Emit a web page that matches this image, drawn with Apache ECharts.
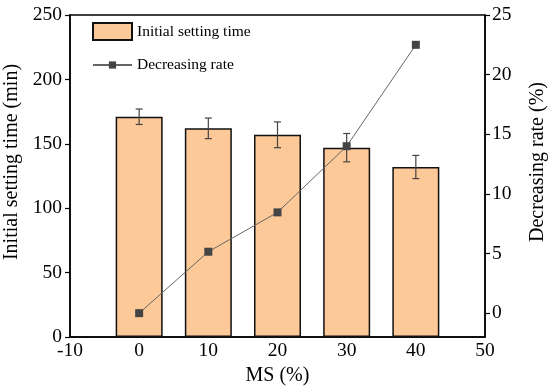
<!DOCTYPE html>
<html><head><meta charset="utf-8">
<script src="https://cdn.jsdelivr.net/npm/echarts@6/dist/echarts.min.js"></script>
<style>html,body{margin:0;padding:0;background:#fff}#c{width:550px;height:386px}</style>
</head><body><div id="c"></div>
<script>
var msValues = [0, 10, 20, 30, 40];
var settingTime = [171, 162, 157, 147, 132];
var settingErr = [6, 8, 10, 11, 9];
var decreasingRate = [0, 5.15, 8.45, 14.0, 22.5];
var xTicks = [-10, 0, 10, 20, 30, 40, 50];
var rightTicks = [0, 5, 10, 15, 20, 25];

var FONT = '"Palatino Linotype","Book Antiqua",Palatino,"Liberation Serif",serif';
var barData = msValues.map(function(x,i){return [x, settingTime[i]];});
var errData = msValues.map(function(x,i){return [x, settingTime[i]-settingErr[i], settingTime[i]+settingErr[i]];});
var lineData = msValues.map(function(x,i){return [x, decreasingRate[i]];});

var chart = echarts.init(document.getElementById('c'));
chart.setOption({
  animation:false,
  textStyle:{fontFamily:FONT},
  grid:{left:70,right:65,top:15,bottom:49,show:true,borderColor:'#000',borderWidth:1.5,backgroundColor:'transparent',
        containLabel:false,outerBoundsMode:'none'},
  legend:[
    {data:['Initial setting time'],icon:'rect',left:92,top:22,itemWidth:39,itemHeight:17,padding:0,
     textStyle:{fontFamily:FONT,fontSize:15.5,color:'#000'}},
    {data:['Decreasing rate'],left:92,top:57,itemWidth:39,itemHeight:9,padding:0,
     textStyle:{fontFamily:FONT,fontSize:15.5,color:'#000'}}
  ],
  xAxis:{type:'value',min:-10,max:50,interval:10,
    name:'MS (%)',nameLocation:'middle',nameGap:23,
    nameTextStyle:{fontFamily:FONT,fontSize:20,color:'#000'},
    axisLine:{onZero:false,lineStyle:{color:'#000',width:1.5}},
    axisTick:{show:false},splitLine:{show:false},
    axisLabel:{fontFamily:FONT,fontSize:19.5,color:'#000',margin:4}},
  yAxis:[
    {type:'value',min:0,max:250,interval:50,position:'left',
     name:'Initial setting time (min)',nameLocation:'middle',nameGap:41,
     nameTextStyle:{fontFamily:FONT,fontSize:20,color:'#000',padding:[0,0,0,28]},
     axisLine:{show:true,onZero:false,lineStyle:{color:'#000',width:1.5}},
     axisTick:{show:true,length:5,lineStyle:{color:'#000',width:1.2}},
     splitLine:{show:false},
     axisLabel:{fontFamily:FONT,fontSize:19.5,color:'#000',margin:8}},
    {type:'value',min:-2,max:25,position:'right',
     name:'Decreasing rate (%)',nameLocation:'middle',nameGap:43,nameRotate:90,
     nameTextStyle:{fontFamily:FONT,fontSize:20,color:'#000',padding:[0,0,0,28]},
     axisLine:{show:true,onZero:false,lineStyle:{color:'#000',width:1.5}},
     axisTick:{show:true,length:5,customValues:rightTicks,lineStyle:{color:'#000',width:1.2}},
     splitLine:{show:false},
     axisLabel:{fontFamily:FONT,fontSize:19.5,color:'#000',margin:7,customValues:rightTicks}}
  ],
  series:[
    {name:'Initial setting time',type:'bar',data:barData,barWidth:47,yAxisIndex:0,
     itemStyle:{color:'#FDC998',borderColor:'#111',borderWidth:1.5}},
    {name:'err',type:'custom',yAxisIndex:0,data:errData,z:5,
     renderItem:function(params,api){
       var x=api.value(0);
       var lo=api.coord([x,api.value(1)]);
       var hi=api.coord([x,api.value(2)]);
       var hw=3.5;
       var st={stroke:'#444',lineWidth:1.2};
       return {type:'group',children:[
         {type:'line',shape:{x1:hi[0],y1:hi[1],x2:lo[0],y2:lo[1]},style:st},
         {type:'line',shape:{x1:hi[0]-hw,y1:hi[1],x2:hi[0]+hw,y2:hi[1]},style:st},
         {type:'line',shape:{x1:lo[0]-hw,y1:lo[1],x2:lo[0]+hw,y2:lo[1]},style:st}
       ]};
     }},
    {name:'Decreasing rate',type:'line',yAxisIndex:1,data:lineData,z:10,
     symbol:'rect',symbolSize:8,
     lineStyle:{color:'#666',width:1},
     itemStyle:{color:'#444'}}
  ]
});
</script></body></html>
